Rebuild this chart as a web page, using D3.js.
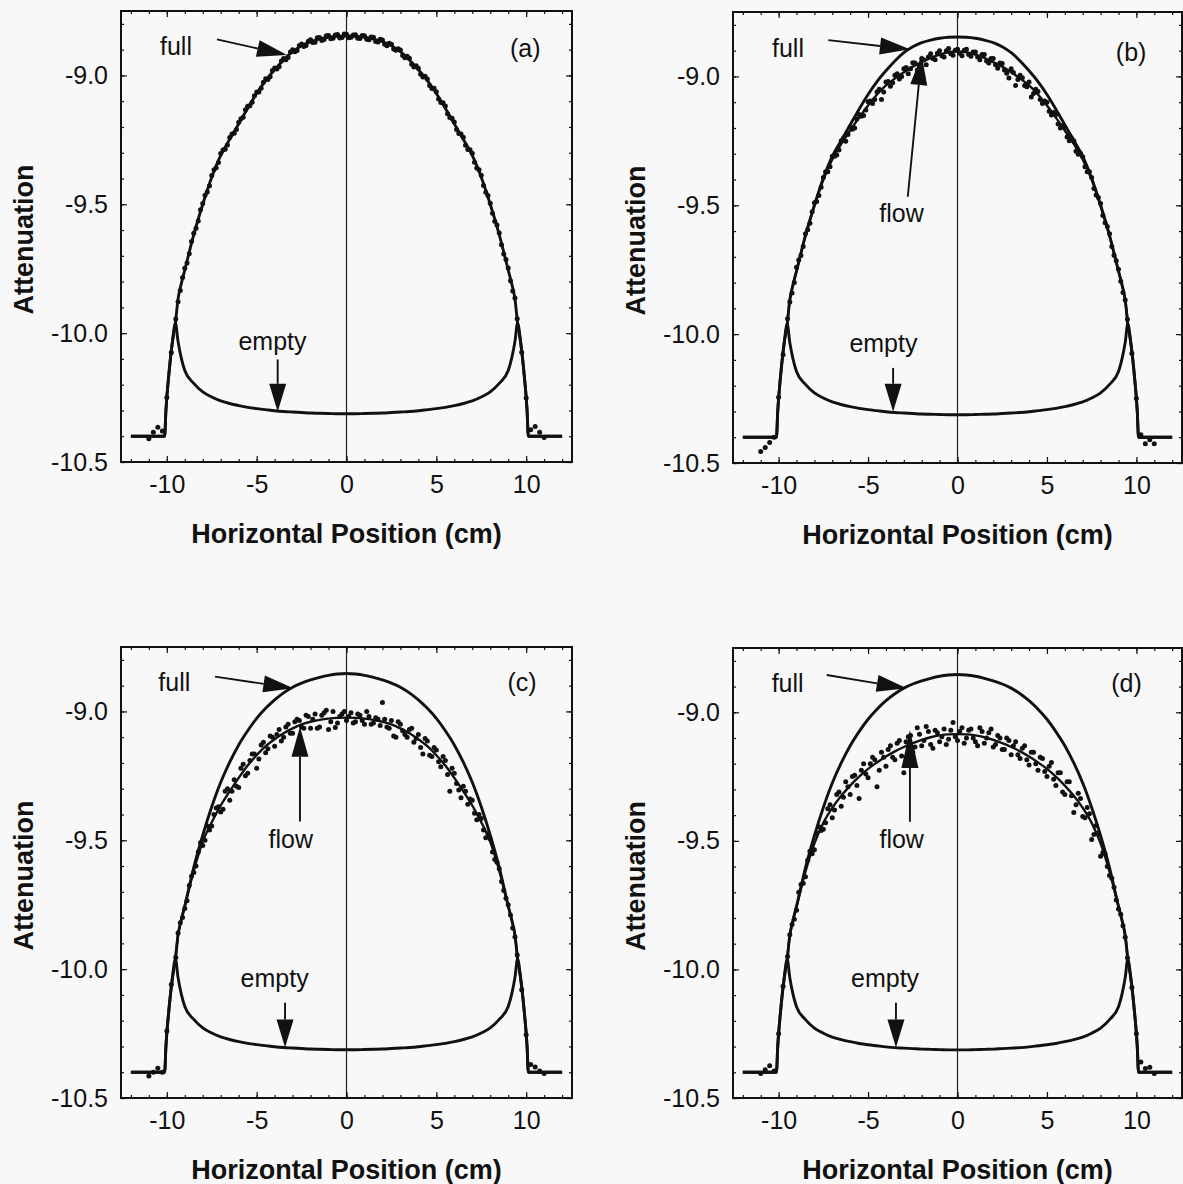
<!DOCTYPE html>
<html>
<head>
<meta charset="utf-8">
<script src="https://cdn.jsdelivr.net/npm/d3@7"></script>
<style>
body { margin: 0; background: #f8f8f8; }
svg { display: block; font-family: "Liberation Sans", Arial, Helvetica, sans-serif; }
</style>
</head>
<body>
<svg id="chart" width="1183" height="1184"></svg>
<script>
// axis ticks
var xTicks = [-10, -5, 0, 5, 10];
var yTicks = [-10.5, -10.0, -9.5, -9.0];

// reference curves: positions (cm) and attenuation
var curveX = [-12.0,-10.12,-10.05,-9.9,-9.7,-9.52,-9.38,-9.2,-9.0,-8.5,-8.0,-7.5,-7.0,-6.5,-6.0,-5.5,-5.0,-4.5,-4.0,-3.5,-3.0,-2.5,-2.0,-1.5,-1.0,-0.5,
  0,0.5,1.0,1.5,2.0,2.5,3.0,3.5,4.0,4.5,5.0,5.5,6.0,6.5,7.0,7.5,8.0,8.5,9.0,9.2,9.38,9.52,9.7,9.9,10.05,10.12,12.0];
var fullTopY = [-10.40,-10.40,-10.30,-10.17,-10.04,-9.96,-9.87,-9.81,-9.755,-9.618,-9.50,-9.395,-9.31,-9.248,-9.188,-9.127,-9.07,-9.02,-8.978,-8.94,-8.908,-8.885,-8.869,-8.859,-8.852,-8.848,
  -8.847,-8.848,-8.852,-8.859,-8.869,-8.885,-8.908,-8.94,-8.978,-9.02,-9.07,-9.127,-9.188,-9.248,-9.31,-9.395,-9.50,-9.618,-9.755,-9.81,-9.87,-9.96,-10.04,-10.17,-10.30,-10.40,-10.40];
var fullBottomY = [-10.40,-10.40,-10.30,-10.17,-10.04,-9.96,-9.87,-9.81,-9.755,-9.605,-9.48,-9.37,-9.275,-9.197,-9.13,-9.075,-9.027,-8.988,-8.955,-8.928,-8.906,-8.89,-8.878,-8.868,-8.86,-8.855,
  -8.853,-8.855,-8.86,-8.868,-8.878,-8.89,-8.906,-8.928,-8.955,-8.988,-9.027,-9.075,-9.13,-9.197,-9.275,-9.37,-9.48,-9.605,-9.755,-9.81,-9.87,-9.96,-10.04,-10.17,-10.30,-10.40,-10.40];
var emptyY = [-10.40,-10.40,-10.30,-10.17,-10.04,-9.96,-10.03,-10.095,-10.145,-10.195,-10.228,-10.248,-10.263,-10.273,-10.281,-10.288,-10.293,-10.297,-10.301,-10.304,-10.306,-10.308,-10.31,-10.311,-10.312,-10.313,
  -10.313,-10.313,-10.312,-10.311,-10.31,-10.308,-10.306,-10.304,-10.301,-10.297,-10.293,-10.288,-10.281,-10.273,-10.263,-10.248,-10.228,-10.195,-10.145,-10.095,-10.03,-9.96,-10.04,-10.17,-10.30,-10.40,-10.40];

// flow fits
var flowX = [-9.52,-9.38,-9.2,-9.0,-8.5,-8.0,-7.5,-7.0,-6.5,-6.0,-5.5,-5.0,-4.5,-4.0,-3.5,-3.0,-2.5,-2.0,-1.5,-1.0,-0.5,
  0,0.5,1.0,1.5,2.0,2.5,3.0,3.5,4.0,4.5,5.0,5.5,6.0,6.5,7.0,7.5,8.0,8.5,9.0,9.2,9.38,9.52];
var flowBY = [-9.96,-9.87,-9.81,-9.755,-9.618,-9.502,-9.40,-9.322,-9.262,-9.21,-9.16,-9.113,-9.07,-9.035,-9.008,-8.984,-8.962,-8.945,-8.928,-8.915,-8.906,
  -8.903,-8.906,-8.915,-8.928,-8.945,-8.962,-8.984,-9.008,-9.035,-9.07,-9.113,-9.16,-9.21,-9.262,-9.322,-9.40,-9.502,-9.618,-9.755,-9.81,-9.87,-9.96];
var flowCY = [-9.96,-9.87,-9.81,-9.755,-9.618,-9.505,-9.43,-9.365,-9.31,-9.258,-9.21,-9.17,-9.135,-9.108,-9.085,-9.066,-9.05,-9.04,-9.033,-9.028,-9.025,
  -9.024,-9.025,-9.028,-9.033,-9.04,-9.05,-9.066,-9.085,-9.108,-9.135,-9.17,-9.21,-9.258,-9.31,-9.365,-9.43,-9.505,-9.618,-9.755,-9.81,-9.87,-9.96];
var flowDY = [-9.96,-9.87,-9.81,-9.755,-9.62,-9.51,-9.43,-9.372,-9.325,-9.285,-9.25,-9.22,-9.195,-9.172,-9.152,-9.135,-9.12,-9.107,-9.097,-9.09,-9.086,
  -9.085,-9.086,-9.09,-9.097,-9.107,-9.12,-9.135,-9.152,-9.172,-9.195,-9.22,-9.25,-9.285,-9.325,-9.372,-9.43,-9.51,-9.62,-9.755,-9.81,-9.87,-9.96];

// measured points, first pass
var dotX = [-11,-10.75,-10.5,-10.25,-10,-9.75,-9.5,-9.25,-9,-8.75,-8.5,
  -8.25,-8,-7.75,-7.5,-7.25,-7,-6.75,-6.5,-6.25,-6,-5.75,
  -5.5,-5.25,-5,-4.75,-4.5,-4.25,-4,-3.75,-3.5,-3.25,-3,
  -2.75,-2.5,-2.25,-2,-1.75,-1.5,-1.25,-1,-0.75,-0.5,-0.25,
  0,0.25,0.5,0.75,1,1.25,1.5,1.75,2,2.25,2.5,
  2.75,3,3.25,3.5,3.75,4,4.25,4.5,4.75,5,5.25,
  5.5,5.75,6,6.25,6.5,6.75,7,7.25,7.5,7.75,8,
  8.25,8.5,8.75,9,9.25,9.5,9.75,10,10.25,10.5,10.75,
  11];
var dotsA = [-10.41,-10.385,-10.365,-10.38,-10.25,-10.075,-9.945,-9.835,-9.748,-9.692,-9.612,
  -9.565,-9.497,-9.452,-9.388,-9.358,-9.303,-9.286,-9.241,-9.224,-9.182,-9.162,
  -9.12,-9.104,-9.064,-9.05,-9.013,-9.005,-8.971,-8.966,-8.934,-8.93,-8.9,
  -8.903,-8.878,-8.884,-8.862,-8.871,-8.853,-8.861,-8.845,-8.856,-8.841,-8.853,
  -8.84,-8.852,-8.842,-8.857,-8.846,-8.862,-8.852,-8.87,-8.863,-8.885,-8.879,
  -8.902,-8.901,-8.931,-8.933,-8.967,-8.972,-9.006,-9.014,-9.051,-9.063,-9.105,
  -9.119,-9.163,-9.181,-9.225,-9.24,-9.287,-9.302,-9.359,-9.387,-9.453,-9.496,
  -9.566,-9.611,-9.693,-9.747,-9.836,-9.944,-10.074,-10.252,-10.375,-10.362,-10.385,
  -10.405];
var dotsB = [-10.455,-10.44,-10.42,-10.4,-10.245,-10.08,-9.94,-9.84,-9.74,-9.695,-9.61,
  -9.57,-9.49,-9.462,-9.392,-9.37,-9.31,-9.305,-9.25,-9.252,-9.195,-9.2,
  -9.148,-9.152,-9.098,-9.105,-9.06,-9.09,-9.022,-9.038,-8.995,-9.01,-8.97,
  -8.99,-8.947,-8.975,-8.93,-8.955,-8.912,-8.935,-8.9,-8.925,-8.892,-8.918,
  -8.895,-8.92,-8.895,-8.922,-8.905,-8.935,-8.915,-8.948,-8.93,-8.968,-8.95,
  -8.988,-8.97,-9.035,-8.995,-9.035,-9.022,-9.066,-9.058,-9.105,-9.1,-9.15,
  -9.148,-9.2,-9.198,-9.25,-9.25,-9.302,-9.312,-9.37,-9.392,-9.46,-9.493,
  -9.568,-9.61,-9.694,-9.748,-9.838,-9.942,-10.075,-10.25,-10.39,-10.425,-10.41,
  -10.425];
var dotsC = [-10.415,-10.4,-10.385,-10.4,-10.24,-10.06,-9.955,-9.82,-9.765,-9.675,-9.625,
  -9.545,-9.52,-9.445,-9.445,-9.375,-9.39,-9.31,-9.345,-9.265,-9.295,-9.205,
  -9.24,-9.165,-9.22,-9.13,-9.16,-9.095,-9.135,-9.07,-9.1,-9.05,-9.085,
  -9.03,-9.06,-9.015,-9.065,-9.01,-9.06,-9.005,-9.07,-9.0,-9.045,-9.01,
  -9.035,-9.005,-9.04,-9.015,-9.05,-9.02,-9.045,-9.03,-8.965,-9.06,-9.035,
  -9.1,-9.05,-9.09,-9.07,-9.12,-9.09,-9.165,-9.115,-9.175,-9.15,-9.215,
  -9.19,-9.31,-9.24,-9.305,-9.29,-9.36,-9.345,-9.42,-9.415,-9.49,-9.495,
  -9.575,-9.61,-9.695,-9.75,-9.84,-9.945,-10.08,-10.255,-10.37,-10.38,-10.395,
  -10.405];
var dotsD = [-10.405,-10.39,-10.375,-10.395,-10.25,-10.065,-9.95,-9.825,-9.77,-9.67,-9.64,
  -9.54,-9.535,-9.445,-9.455,-9.375,-9.41,-9.32,-9.365,-9.27,-9.32,-9.245,
  -9.335,-9.2,-9.255,-9.175,-9.29,-9.155,-9.21,-9.13,-9.185,-9.11,-9.235,
  -9.095,-9.155,-9.06,-9.13,-9.055,-9.125,-9.07,-9.115,-9.065,-9.105,-9.04,
  -9.11,-9.06,-9.1,-9.065,-9.115,-9.06,-9.12,-9.08,-9.135,-9.09,-9.145,
  -9.1,-9.165,-9.115,-9.18,-9.13,-9.205,-9.155,-9.225,-9.18,-9.25,-9.195,
  -9.285,-9.235,-9.32,-9.27,-9.39,-9.315,-9.405,-9.37,-9.495,-9.44,-9.56,
  -9.55,-9.635,-9.68,-9.765,-9.83,-9.955,-10.07,-10.25,-10.36,-10.385,-10.38,
  -10.405];

// measured points, second pass (interleaved positions)
var dotX2 = [-9.375,-9.125,-8.875,-8.625,-8.375,-8.125,-7.875,-7.625,-7.375,-7.125,-6.875,-6.625,-6.375,-6.125,-5.875,-5.625,-5.375,-5.125,-4.875,
  -4.625,-4.375,-4.125,-3.875,-3.625,-3.375,-3.125,-2.875,-2.625,-2.375,-2.125,-1.875,-1.625,-1.375,-1.125,-0.875,-0.625,-0.375,-0.125,
  0.125,0.375,0.625,0.875,1.125,1.375,1.625,1.875,2.125,2.375,2.625,2.875,3.125,3.375,3.625,3.875,4.125,4.375,4.625,
  4.875,5.125,5.375,5.625,5.875,6.125,6.375,6.625,6.875,7.125,7.375,7.625,7.875,8.125,8.375,8.625,8.875,9.125,9.375];
var dotsA2 = [-9.878,-9.784,-9.728,-9.644,-9.593,-9.521,-9.465,-9.428,-9.366,-9.338,-9.289,-9.27,-9.227,-9.21,-9.168,-9.133,-9.118,-9.079,-9.064,
  -9.026,-9.016,-8.981,-8.975,-8.944,-8.939,-8.909,-8.908,-8.884,-8.888,-8.867,-8.872,-8.854,-8.864,-8.846,-8.858,-8.843,-8.855,-8.839,
  -8.854,-8.843,-8.856,-8.845,-8.86,-8.851,-8.868,-8.86,-8.879,-8.875,-8.897,-8.896,-8.923,-8.926,-8.957,-8.962,-8.995,-9.003,-9.039,
  -9.05,-9.091,-9.106,-9.149,-9.166,-9.21,-9.227,-9.271,-9.288,-9.337,-9.366,-9.427,-9.466,-9.535,-9.58,-9.657,-9.714,-9.797,-9.864];
var dotsB2 = [-9.875,-9.8,-9.712,-9.66,-9.595,-9.525,-9.485,-9.43,-9.37,-9.35,-9.31,-9.285,-9.24,-9.225,-9.205,-9.165,-9.155,-9.13,-9.095,
  -9.09,-9.05,-9.06,-9.02,-9.025,-8.99,-9.0,-8.965,-8.97,-8.948,-8.958,-8.935,-8.925,-8.93,-8.91,-8.92,-8.9,-8.912,-8.898,
  -8.91,-8.898,-8.915,-8.905,-8.925,-8.915,-8.94,-8.93,-8.955,-8.948,-8.975,-9.006,-8.985,-9.012,-9.005,-9.04,-9.08,-9.05,-9.09,
  -9.095,-9.135,-9.14,-9.185,-9.19,-9.235,-9.24,-9.29,-9.298,-9.35,-9.37,-9.435,-9.47,-9.54,-9.582,-9.66,-9.715,-9.795,-9.868];
var dotsC2 = [-9.86,-9.8,-9.735,-9.64,-9.6,-9.51,-9.5,-9.46,-9.4,-9.37,-9.38,-9.3,-9.31,-9.29,-9.22,-9.25,-9.19,-9.165,-9.185,
  -9.12,-9.145,-9.1,-9.09,-9.115,-9.06,-9.085,-9.04,-9.035,-9.065,-9.02,-9.03,-9.065,-9.015,-8.995,-9.04,-9.062,-9.02,-9.0,
  -9.02,-9.045,-9.01,-9.035,-9.0,-9.05,-9.025,-9.055,-9.03,-9.065,-9.095,-9.04,-9.075,-9.1,-9.065,-9.105,-9.14,-9.105,-9.17,
  -9.14,-9.195,-9.175,-9.245,-9.22,-9.28,-9.335,-9.31,-9.34,-9.395,-9.4,-9.46,-9.475,-9.545,-9.585,-9.66,-9.725,-9.79,-9.875];
var dotsD2 = [-9.865,-9.805,-9.7,-9.665,-9.575,-9.55,-9.47,-9.46,-9.43,-9.36,-9.38,-9.31,-9.33,-9.29,-9.25,-9.285,-9.225,-9.24,-9.2,
  -9.185,-9.225,-9.175,-9.145,-9.175,-9.12,-9.17,-9.115,-9.09,-9.135,-9.085,-9.11,-9.075,-9.14,-9.08,-9.095,-9.125,-9.07,-9.095,
  -9.075,-9.12,-9.07,-9.1,-9.13,-9.075,-9.1,-9.065,-9.125,-9.1,-9.145,-9.11,-9.13,-9.165,-9.14,-9.185,-9.155,-9.2,-9.175,
  -9.23,-9.21,-9.26,-9.235,-9.31,-9.27,-9.325,-9.36,-9.335,-9.41,-9.395,-9.475,-9.47,-9.545,-9.6,-9.645,-9.73,-9.785,-9.875];

var xDomain = [-12.55, 12.55],
    yDomain = [-10.5, -8.75];

// panel layout and annotation spots (data units)
var panels = [
  { tag: "(a)", x0: 121, y0: 11, x1: 572, y1: 462, full: fullTopY, flow: null, dots: dotsA, dots2: dotsA2,
    fullText: [-10.38, -8.921], fullArrow: [-7.21, -8.86, -3.31, -8.921],
    emptyText: [-4.12, -10.065], emptyArrow: [-3.83, -10.102, -3.83, -10.305], tagPos: [10.8, -8.929] },
  { tag: "(b)", x0: 733, y0: 12, x1: 1182, y1: 463, full: fullTopY, flow: flowBY, dots: dotsB, dots2: dotsB2,
    fullText: [-10.37, -8.925], fullArrow: [-7.22, -8.859, -2.66, -8.895],
    flowText: [-3.13, -9.565], flowArrow: [-2.78, -9.467, -2.0, -8.917], flowHead: 30,
    emptyText: [-4.14, -10.07], emptyArrow: [-3.6, -10.131, -3.6, -10.301], tagPos: [10.56, -8.94] },
  { tag: "(c)", x0: 121, y0: 647, x1: 572, y1: 1098, full: fullBottomY, flow: flowCY, dots: dotsC, dots2: dotsC2,
    fullText: [-10.47, -8.92], fullArrow: [-7.32, -8.865, -2.96, -8.91],
    flowText: [-3.1, -9.529], flowArrow: [-2.59, -9.427, -2.59, -9.059], flowHead: 30,
    emptyText: [-4.0, -10.07], emptyArrow: [-3.42, -10.13, -3.42, -10.304], tagPos: [10.58, -8.92] },
  { tag: "(d)", x0: 733, y0: 648, x1: 1182, y1: 1098, full: fullBottomY, flow: flowDY, dots: dotsD, dots2: dotsD2,
    fullText: [-10.39, -8.92], fullArrow: [-7.31, -8.855, -2.84, -8.907],
    flowText: [-3.12, -9.528], flowArrow: [-2.66, -9.426, -2.66, -9.069], flowHead: 38,
    emptyText: [-4.05, -10.07], emptyArrow: [-3.44, -10.13, -3.44, -10.304], tagPos: [10.3, -8.92] }
];

var ink = "#111";
var svg = d3.select("#chart");

function styleAxis(sel) {
  sel.select(".domain").remove();
  sel.selectAll("line").attr("stroke", ink).attr("stroke-width", 1.2);
  sel.selectAll("text").attr("font-size", 25).attr("fill", ink).attr("font-family", null);
}

function arrow(g, x1, y1, x2, y2, len) {
  var dx = x2 - x1, dy = y2 - y1, d = Math.sqrt(dx * dx + dy * dy),
      ux = dx / d, uy = dy / d, w = 8.5,
      bx = x2 - ux * len, by = y2 - uy * len;
  g.append("line").attr("x1", x1).attr("y1", y1).attr("x2", bx).attr("y2", by)
    .attr("stroke", ink).attr("stroke-width", 1.9);
  g.append("path")
    .attr("d", "M" + x2 + "," + y2 + "L" + (bx - uy * w) + "," + (by + ux * w) +
               "L" + (bx + uy * w) + "," + (by - ux * w) + "Z")
    .attr("fill", ink);
}

var yMinor = d3.range(-10.5, -8.74, 0.1),
    xMinor = d3.range(-12, 12.5, 1);

panels.forEach(function(p) {
  var x = d3.scaleLinear().domain(xDomain).range([p.x0, p.x1]);
  var y = d3.scaleLinear().domain(yDomain).range([p.y1, p.y0]);
  var g = svg.append("g");

  // zero line
  g.append("line").attr("x1", x(0)).attr("x2", x(0)).attr("y1", p.y0).attr("y2", p.y1)
    .attr("stroke", "#222").attr("stroke-width", 1.2);

  // axes, ticks inside on all four sides
  g.append("g").attr("transform", "translate(" + p.x0 + ",0)")
    .call(d3.axisLeft(y).tickValues(yTicks).tickSize(-6).tickPadding(13).tickFormat(function(d) { return d.toFixed(1); }))
    .call(styleAxis);
  g.append("g").attr("transform", "translate(" + p.x0 + ",0)")
    .call(d3.axisLeft(y).tickValues(yMinor).tickSize(-3).tickFormat(""))
    .call(styleAxis);
  g.append("g").attr("transform", "translate(" + p.x1 + ",0)")
    .call(d3.axisRight(y).tickValues(yTicks).tickSize(-6).tickFormat(""))
    .call(styleAxis);
  g.append("g").attr("transform", "translate(" + p.x1 + ",0)")
    .call(d3.axisRight(y).tickValues(yMinor).tickSize(-3).tickFormat(""))
    .call(styleAxis);
  g.append("g").attr("transform", "translate(0," + p.y1 + ")")
    .call(d3.axisBottom(x).tickValues(xTicks).tickSize(-6).tickPadding(13).tickFormat(function(d) { return String(d); }))
    .call(styleAxis);
  g.append("g").attr("transform", "translate(0," + p.y1 + ")")
    .call(d3.axisBottom(x).tickValues(xMinor).tickSize(-3).tickFormat(""))
    .call(styleAxis);
  g.append("g").attr("transform", "translate(0," + p.y0 + ")")
    .call(d3.axisTop(x).tickValues(xTicks).tickSize(-6).tickFormat(""))
    .call(styleAxis);
  g.append("g").attr("transform", "translate(0," + p.y0 + ")")
    .call(d3.axisTop(x).tickValues(xMinor).tickSize(-3).tickFormat(""))
    .call(styleAxis);

  g.append("rect").attr("x", p.x0).attr("y", p.y0)
    .attr("width", p.x1 - p.x0).attr("height", p.y1 - p.y0)
    .attr("fill", "none").attr("stroke", ink).attr("stroke-width", 2);

  var line = d3.line()
    .x(function(d) { return x(d[0]); })
    .y(function(d) { return y(d[1]); })
    .curve(d3.curveMonotoneX);

  g.append("path").datum(d3.zip(curveX, emptyY)).attr("d", line)
    .attr("fill", "none").attr("stroke", ink).attr("stroke-width", 2.9);
  g.append("path").datum(d3.zip(curveX, p.full)).attr("d", line)
    .attr("fill", "none").attr("stroke", ink).attr("stroke-width", 2.9);
  if (p.flow) {
    g.append("path").datum(d3.zip(flowX, p.flow)).attr("d", line)
      .attr("fill", "none").attr("stroke", ink).attr("stroke-width", 2.4);
  }

  var pts = d3.zip(dotX, p.dots).concat(d3.zip(dotX2, p.dots2));
  g.selectAll("circle.pt").data(pts).enter().append("circle")
    .attr("class", "pt")
    .attr("cx", function(d) { return x(d[0]); })
    .attr("cy", function(d) { return y(d[1]); })
    .attr("r", 2.5).attr("fill", ink);

  // annotations
  g.append("text").attr("x", x(p.fullText[0])).attr("y", y(p.fullText[1]))
    .attr("font-size", 25).attr("fill", ink).text("full");
  arrow(g, x(p.fullArrow[0]), y(p.fullArrow[1]), x(p.fullArrow[2]), y(p.fullArrow[3]), 30);

  g.append("text").attr("x", x(p.emptyText[0])).attr("y", y(p.emptyText[1]))
    .attr("font-size", 25).attr("fill", ink).attr("text-anchor", "middle").text("empty");
  arrow(g, x(p.emptyArrow[0]), y(p.emptyArrow[1]), x(p.emptyArrow[2]), y(p.emptyArrow[3]), 28);

  if (p.flow) {
    g.append("text").attr("x", x(p.flowText[0])).attr("y", y(p.flowText[1]))
      .attr("font-size", 25).attr("fill", ink).attr("text-anchor", "middle").text("flow");
    arrow(g, x(p.flowArrow[0]), y(p.flowArrow[1]), x(p.flowArrow[2]), y(p.flowArrow[3]), p.flowHead);
  }

  g.append("text").attr("x", x(p.tagPos[0])).attr("y", y(p.tagPos[1]))
    .attr("font-size", 25).attr("fill", ink).attr("text-anchor", "end").text(p.tag);

  // axis titles
  g.append("text").attr("x", (p.x0 + p.x1) / 2).attr("y", p.y1 + 81)
    .attr("font-size", 27).attr("font-weight", "bold").attr("fill", ink)
    .attr("text-anchor", "middle").text("Horizontal Position (cm)");
  g.append("text")
    .attr("transform", "translate(" + (p.x0 - 88) + "," + ((p.y0 + p.y1) / 2 + 3) + ") rotate(-90)")
    .attr("font-size", 27).attr("font-weight", "bold").attr("fill", ink)
    .attr("text-anchor", "middle").text("Attenuation");
});
</script>
</body>
</html>
